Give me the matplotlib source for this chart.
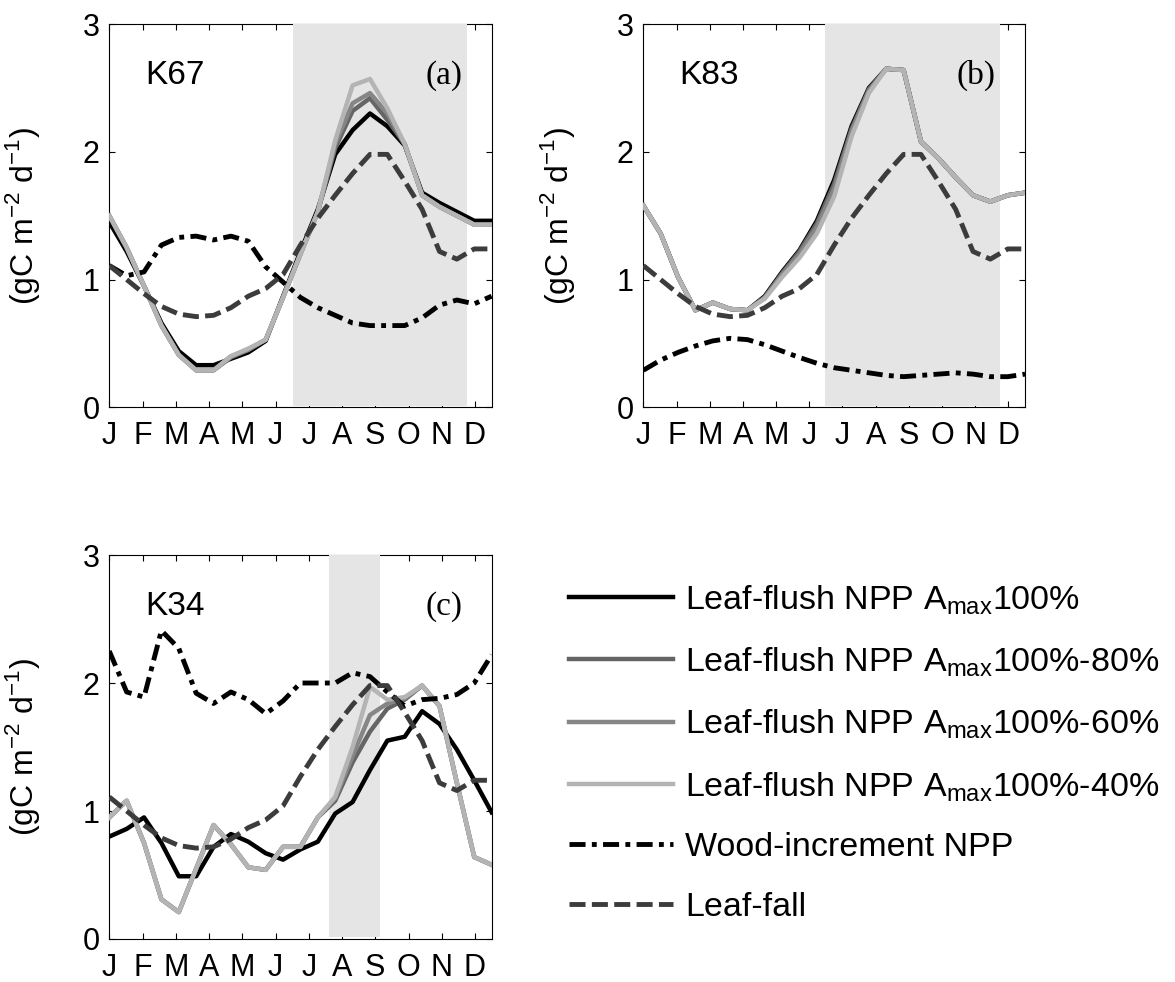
import numpy as np
import matplotlib
matplotlib.use("Agg")
import matplotlib.pyplot as plt

plt.rcParams['font.family'] = ['Liberation Sans', 'DejaVu Sans']
plt.rcParams['axes.linewidth'] = 0.8

# 23 points spread over the year, axis in month units (J=1 ... D=12)
x = np.linspace(1, 12.5, 23)
months = ["J", "F", "M", "A", "M", "J", "J", "A", "S", "O", "N", "D"]

# leaf-fall, same in every panel
leaf_fall = [1.11, 1.00, 0.89, 0.79, 0.73, 0.71, 0.72, 0.78, 0.87, 0.93, 1.04, 1.27,
             1.48, 1.66, 1.83, 1.98, 1.98, 1.77, 1.55, 1.22, 1.16, 1.24, 1.24]

# (a) K67
a_100 = [1.45, 1.22, 0.95, 0.66, 0.44, 0.33, 0.33, 0.38, 0.43, 0.52, 0.87, 1.22,
         1.55, 1.98, 2.17, 2.30, 2.20, 2.05, 1.68, 1.60, 1.53, 1.46, 1.46]
a_80 = [1.50, 1.25, 0.95, 0.64, 0.41, 0.29, 0.29, 0.39, 0.45, 0.53, 0.86, 1.20,
        1.53, 2.03, 2.32, 2.42, 2.25, 2.06, 1.66, 1.57, 1.50, 1.43, 1.43]
a_60 = [1.50, 1.25, 0.95, 0.64, 0.41, 0.29, 0.29, 0.40, 0.45, 0.53, 0.86, 1.20,
        1.53, 2.06, 2.38, 2.46, 2.30, 2.06, 1.66, 1.57, 1.50, 1.43, 1.43]
a_40 = [1.50, 1.25, 0.95, 0.64, 0.41, 0.29, 0.29, 0.40, 0.46, 0.53, 0.86, 1.20,
        1.53, 2.09, 2.52, 2.57, 2.34, 2.06, 1.66, 1.57, 1.50, 1.43, 1.43]
a_wood = [1.11, 1.03, 1.06, 1.27, 1.33, 1.34, 1.31, 1.34, 1.30, 1.10, 0.98, 0.86,
          0.78, 0.72, 0.66, 0.64, 0.64, 0.64, 0.70, 0.80, 0.84, 0.81, 0.87]

# (b) K83
b_100 = [1.58, 1.36, 1.02, 0.76, 0.82, 0.77, 0.76, 0.87, 1.06, 1.23, 1.46, 1.78,
         2.20, 2.50, 2.65, 2.64, 2.08, 1.95, 1.80, 1.66, 1.61, 1.66, 1.68]
b_80 = [1.58, 1.36, 1.02, 0.76, 0.82, 0.77, 0.76, 0.86, 1.05, 1.22, 1.44, 1.75,
        2.18, 2.49, 2.65, 2.64, 2.08, 1.95, 1.80, 1.66, 1.61, 1.66, 1.68]
b_60 = [1.58, 1.36, 1.02, 0.76, 0.82, 0.77, 0.76, 0.86, 1.04, 1.20, 1.41, 1.71,
        2.16, 2.48, 2.65, 2.64, 2.08, 1.95, 1.80, 1.66, 1.61, 1.66, 1.68]
b_40 = [1.58, 1.36, 1.02, 0.76, 0.82, 0.77, 0.76, 0.85, 1.02, 1.17, 1.36, 1.65,
        2.12, 2.46, 2.65, 2.64, 2.08, 1.95, 1.80, 1.66, 1.61, 1.66, 1.68]
b_wood = [0.29, 0.37, 0.43, 0.48, 0.52, 0.54, 0.53, 0.49, 0.44, 0.39, 0.345, 0.31,
          0.29, 0.27, 0.25, 0.24, 0.25, 0.26, 0.27, 0.26, 0.24, 0.24, 0.26]

# (c) K34
c_100 = [0.80, 0.86, 0.95, 0.75, 0.49, 0.49, 0.72, 0.82, 0.76, 0.67, 0.62, 0.70,
         0.76, 0.98, 1.07, 1.32, 1.55, 1.58, 1.78, 1.68, 1.48, 1.24, 0.99]
c_80 = [0.95, 1.08, 0.75, 0.31, 0.21, 0.55, 0.89, 0.74, 0.56, 0.54, 0.72, 0.72,
        0.95, 1.08, 1.38, 1.62, 1.80, 1.87, 1.98, 1.82, 1.22, 0.64, 0.58]
c_60 = [0.95, 1.08, 0.75, 0.31, 0.21, 0.55, 0.89, 0.74, 0.56, 0.54, 0.72, 0.72,
        0.95, 1.10, 1.43, 1.75, 1.84, 1.88, 1.98, 1.82, 1.22, 0.64, 0.58]
c_40 = [0.95, 1.08, 0.75, 0.31, 0.21, 0.55, 0.89, 0.74, 0.56, 0.54, 0.72, 0.72,
        0.95, 1.11, 1.50, 1.97, 1.87, 1.89, 1.98, 1.82, 1.22, 0.64, 0.58]
c_wood = [2.25, 1.93, 1.89, 2.41, 2.27, 1.92, 1.84, 1.93, 1.87, 1.76, 1.86, 2.00,
          2.00, 2.00, 2.08, 2.05, 1.93, 1.82, 1.87, 1.88, 1.91, 2.00, 2.22]

panels = [
    ("K67", "(a)", [a_100, a_80, a_60, a_40], a_wood, (6.52, 11.77)),
    ("K83", "(b)", [b_100, b_80, b_60, b_40], b_wood, (6.48, 11.74)),
    ("K34", "(c)", [c_100, c_80, c_60, c_40], c_wood, (7.60, 9.15)),
]
positions = [
    [0.0930, 0.5852, 0.3254, 0.3903],
    [0.5475, 0.5852, 0.3249, 0.3903],
    [0.0930, 0.0438, 0.3254, 0.3910],
]

flush_colors = ["#000000", "#656565", "#868686", "#b4b4b4"]
flush_labels = [
    r"Leaf-flush NPP A$_{\mathregular{max}}$100%",
    r"Leaf-flush NPP A$_{\mathregular{max}}$100%-80%",
    r"Leaf-flush NPP A$_{\mathregular{max}}$100%-60%",
    r"Leaf-flush NPP A$_{\mathregular{max}}$100%-40%",
]
dashdot = (0, (3.3, 1.3, 1.0, 1.3))
dashed = (0, (3.3, 1.3))

fig = plt.figure(figsize=(11.75, 9.82), dpi=100)

handles = None
for (site, tag, flush, wood, shade), pos in zip(panels, positions):
    ax = fig.add_axes(pos)
    ax.axvspan(shade[0], shade[1], ymin=0.004, ymax=1, color="#e5e5e5", lw=0, zorder=2.6)

    lines = []
    for vals, col, lab in zip(flush, flush_colors, flush_labels):
        l, = ax.plot(x, vals, color=col, lw=3.2, label=lab, zorder=4)
        lines.append(l)
    l, = ax.plot(x, wood, color="black", lw=3.5, ls=dashdot, label="Wood-increment NPP", zorder=4)
    lines.append(l)
    l, = ax.plot(x, leaf_fall, color="#3c3c3c", lw=3.5, ls=dashed, label="Leaf-fall", zorder=4)
    lines.append(l)
    if handles is None:
        handles = lines

    ax.set_xlim(1, 12.5)
    ax.set_ylim(0, 3)
    ax.set_xticks(range(1, 13))
    ax.set_xticklabels(months)
    ax.set_yticks([0, 1, 2, 3])
    ax.tick_params(direction="in", top=True, right=True, length=4, width=0.8, labelsize=22)
    ax.tick_params(axis="x", pad=10)
    ax.tick_params(axis="y", pad=7)
    ax.set_ylabel(r"(gC m$^{\mathregular{-2}}$ d$^{\mathregular{-1}}$)", fontsize=23)
    ax.yaxis.set_label_coords(-0.175, 0.5)

    ax.text(2.07, 2.6, site, fontsize=24, va="center", ha="left", zorder=5)
    ax.text(11.62, 2.6, tag, fontsize=24, va="center", ha="right",
            family="Liberation Serif", zorder=5)

fig.legend(handles, [h.get_label() for h in handles], loc="upper left",
           bbox_to_anchor=(569 / 1175, 1 - 583 / 982), frameon=False,
           borderpad=0, borderaxespad=0, handlelength=3.05, handletextpad=0.37,
           labelspacing=0.84, prop={"size": 24.5})

fig.savefig("out.png", dpi=100)
